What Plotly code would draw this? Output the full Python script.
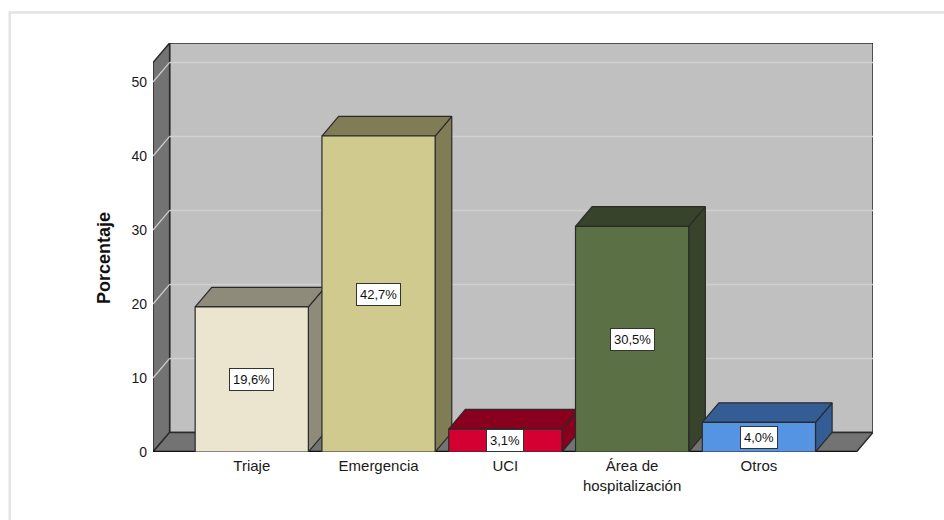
import plotly.graph_objects as go

# Distribución porcentual por área
categorias = ["Triaje", "Emergencia", "UCI", "Área de<br>hospitalización", "Otros"]
porcentajes = [19.6, 42.7, 3.1, 30.5, 4.0]
color_frente = ["#EBE5CF", "#D0CA8E", "#D50032", "#5B7045", "#5594E2"]
color_lado = ["#8F8B7A", "#807C55", "#89001F", "#38432B", "#335D94"]
ticks_y = [0, 10, 20, 30, 40, 50]

# Pseudo-3D geometry in data units
XMIN, XMAX = -0.779, 4.90
YMAX = 55.27
DX, DY = 0.131, 2.65      # depth offset
W = 0.893                 # bar width
EDGE = "#2a2a2a"

fig = go.Figure()


def poly(xs, ys, fill, line=EDGE, width=1.2):
    fig.add_trace(go.Scatter(
        x=xs + [xs[0]], y=ys + [ys[0]], mode="lines", fill="toself",
        fillcolor=fill, line=dict(color=line, width=width),
        hoverinfo="skip", showlegend=False))


def seg(xs, ys, color, width=1.5):
    fig.add_trace(go.Scatter(
        x=xs, y=ys, mode="lines", line=dict(color=color, width=width),
        hoverinfo="skip", showlegend=False))


# Walls and floor
poly([XMIN + DX, XMAX, XMAX, XMIN + DX], [DY, DY, YMAX, YMAX], "#C0C0C0", width=1.5)
poly([XMIN, XMIN, XMIN + DX, XMIN + DX], [0, YMAX - DY, YMAX, DY], "#737373", width=1.5)
poly([XMIN, XMAX - DX, XMAX, XMIN + DX], [0, 0, DY, DY], "#737373", width=1.5)
seg([XMIN, XMAX - DX], [0, 0], "#111111", 2.5)

# Grid lines on the back wall and the left wall
for v in ticks_y[1:]:
    seg([XMIN + DX, XMAX], [v + DY, v + DY], "#D0D0D0", 1.5)
    seg([XMIN, XMIN + DX], [v, v + DY], "#D0D0D0", 1.2)

# Bars: side, top and front faces
for i, v in enumerate(porcentajes):
    x0, x1 = i - W / 2, i + W / 2
    poly([x1, x1 + DX, x1 + DX, x1], [0, DY, v + DY, v], color_lado[i])
    poly([x0, x1, x1 + DX, x0 + DX], [v, v, v + DY, v + DY], color_lado[i])
    poly([x0, x1, x1, x0], [0, 0, v, v], color_frente[i])
    fig.add_annotation(
        x=i, y=v / 2, text=f"{v:.1f}%".replace(".", ","), showarrow=False,
        bgcolor="white", bordercolor="#333333", borderwidth=1, borderpad=3,
        font=dict(family="Liberation Sans", size=13, color="#111111"))

# Axis title
fig.add_annotation(
    xref="paper", yref="paper", x=-0.069, y=0.475, xanchor="center",
    yanchor="middle", text="<b>Porcentaje</b>", textangle=-90, showarrow=False,
    font=dict(family="Liberation Sans", size=18, color="#111111"))

# Outer frame
fig.add_shape(type="rect", xref="paper", yref="paper",
              x0=-0.199, x1=1.3, y0=-0.4, y1=1.0746,
              line=dict(color="#E4E4E4", width=2.5), fillcolor="rgba(0,0,0,0)")

fig.update_layout(
    width=944, height=520,
    margin=dict(l=153, r=71, t=43, b=68),
    paper_bgcolor="white", plot_bgcolor="white",
    xaxis=dict(range=[XMIN, XMAX], tickvals=list(range(len(categorias))),
               ticktext=categorias, showgrid=False, zeroline=False,
               showline=False, ticks="", ticklabelstandoff=3,
               tickfont=dict(family="Liberation Sans", size=15, color="#1a1a1a")),
    yaxis=dict(range=[0, YMAX], tickvals=ticks_y, showgrid=False,
               zeroline=False, showline=False, ticks="", ticklabelstandoff=5,
               tickfont=dict(family="Liberation Sans", size=14, color="#1a1a1a")),
)

fig.write_html("out.html")
